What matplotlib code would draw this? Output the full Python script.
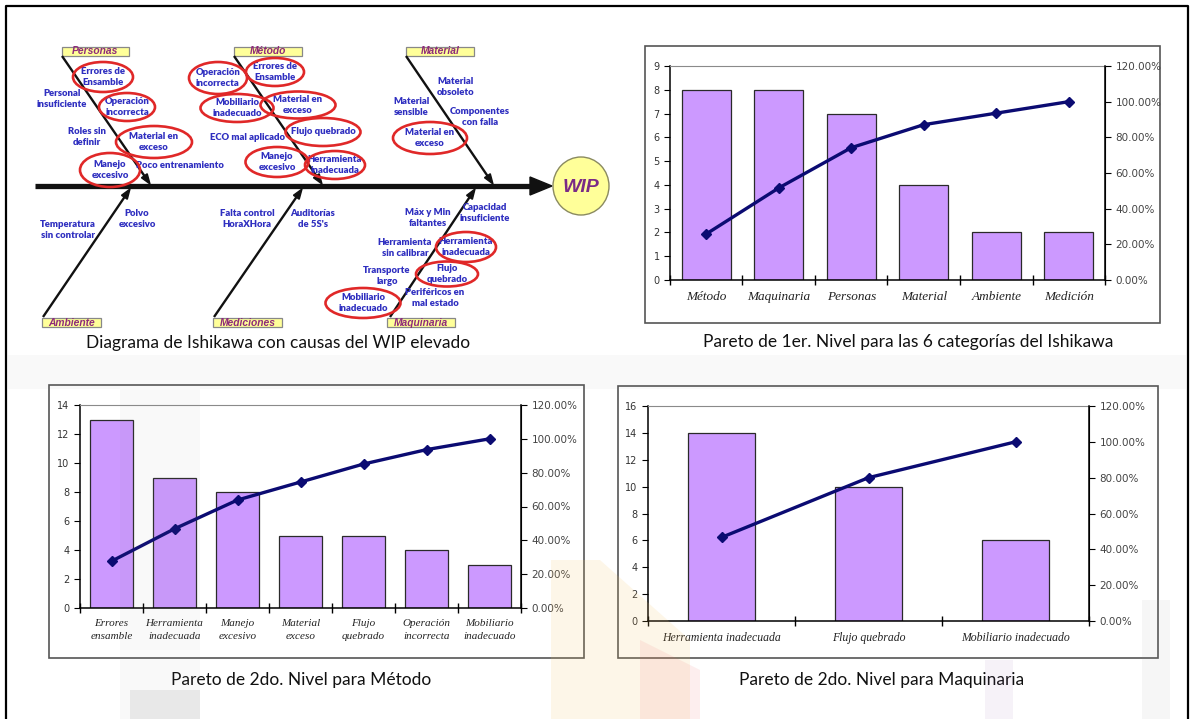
import numpy as np
import matplotlib
matplotlib.use("Agg")
from matplotlib import pyplot as plt
from matplotlib.patches import Ellipse, Rectangle, Polygon

W, H = 1194, 719

# Pareto 1er nivel: categorias del Ishikawa
cat_1 = ["Método", "Maquinaria", "Personas", "Material", "Ambiente", "Medición"]
val_1 = [8, 8, 7, 4, 2, 2]

# Pareto 2do nivel: Método
cat_metodo = ["Errores\nensamble", "Herramienta\ninadecuada", "Manejo\nexcesivo", "Material\nexceso",
              "Flujo\nquebrado", "Operación\nincorrecta", "Mobiliario\ninadecuado"]
val_metodo = [13, 9, 8, 5, 5, 4, 3]

# Pareto 2do nivel: Maquinaria
cat_maq = ["Herramienta inadecuada", "Flujo quebrado", "Mobiliario inadecuado"]
val_maq = [14, 10, 6]

BAR = "#CC99FF"
LINE = "#0B0B72"
CAUSE = "#2F2FC0"
RED = "#E02828"
CATC = "#8E2A7A"


def fig_box(x0, y0, x1, y1):
    return [x0 / W, 1 - y1 / H, (x1 - x0) / W, (y1 - y0) / H]


def arrow(ax, x0, y0, x1, y1, lw, hl, hw, color="#111111"):
    d = np.array([x1 - x0, y1 - y0], float)
    u = d / np.hypot(*d)
    n = np.array([-u[1], u[0]])
    base = np.array([x1, y1]) - u * hl
    ax.plot([x0, base[0]], [y0, base[1]], color=color, lw=lw, solid_capstyle="butt", zorder=3)
    tri = [(x1, y1), base + n * hw / 2, base - n * hw / 2]
    ax.add_patch(Polygon(tri, closed=True, color=color, zorder=3))


def pareto(rect, cats, vals, ymax, lab_size, width, lab_family="Liberation Serif"):
    ax = fig.add_axes(fig_box(*rect))
    ax.set_facecolor("none")
    x = np.arange(len(cats))
    ax.bar(x, vals, width, color=BAR, edgecolor="#2a2a2a", linewidth=0.9, zorder=2)
    ax.set_xlim(-0.5, len(cats) - 0.5)
    ax.set_ylim(0, ymax)
    ax.set_yticks(np.arange(0, ymax + 1, 2 if ymax > 9 else 1))
    ax.set_xticks(np.arange(len(cats) + 1) - 0.5)
    ax.set_xticklabels([])
    ax.set_xticks(x, minor=True)
    ax.set_xticklabels(cats, minor=True, fontsize=lab_size, family=lab_family,
                       style="italic", color="#222222", linespacing=1.5)
    ax.tick_params(axis="x", which="major", direction="inout", length=7, width=1)
    ax.tick_params(axis="x", which="minor", length=0, pad=8)
    ax.tick_params(axis="y", direction="out", length=4, labelsize=7, labelcolor="#333333")
    for s in ("left", "bottom"):
        ax.spines[s].set_linewidth(1.1)
    ax.spines["top"].set_color("#8a8a8a")
    ax.spines["top"].set_linewidth(0.8)

    cum = np.cumsum(vals) / np.sum(vals) * 100
    ax2 = ax.twinx()
    ax2.plot(x, cum, color=LINE, lw=2.4, marker="D", ms=5.5, zorder=4)
    ax2.set_ylim(0, 120)
    ax2.set_yticks(range(0, 121, 20))
    ax2.yaxis.set_major_formatter(lambda v, p: f"{v:.2f}%")
    ax2.tick_params(axis="y", direction="out", length=4, labelsize=7.5, labelcolor="#444444")
    ax2.spines["right"].set_linewidth(1.1)
    ax2.spines["top"].set_visible(False)
    for s in ("left", "bottom"):
        ax2.spines[s].set_visible(False)
    return ax, ax2


fig = plt.figure(figsize=(W / 100, H / 100), dpi=100)
bg = fig.add_axes([0, 0, 1, 1])
bg.set_xlim(0, W)
bg.set_ylim(H, 0)
bg.axis("off")

# marco de la pagina
bg.plot([6, 6, 1188, 1188], [H, 6, 6, H], color="black", lw=1.6)

# recuadros de las graficas
for x0, y0, x1, y1 in [(645, 46, 1160, 323), (49, 385, 584, 658), (618, 386, 1158, 658)]:
    bg.add_patch(Rectangle((x0, y0), x1 - x0, y1 - y0, fc="white", ec="#555555", lw=1.2, zorder=1))

# ---- diagrama de Ishikawa ----
arrow(bg, 35, 186, 552, 186, lw=3.8, hl=22, hw=18)
bg.add_patch(Ellipse((581, 186), 56, 58, fc="#FFFF99", ec="#8a8a60", lw=1.0, zorder=3))
bg.text(581, 187, "WIP", ha="center", va="center", fontsize=14, weight="bold",
        style="italic", color="#7A2A86", family="Liberation Sans", zorder=4)

top_bones = [("Personas", 62, 129, 150), ("Método", 234, 302, 322), ("Material", 406, 474, 493)]
for name, bx0, bx1, tip in top_bones:
    bg.add_patch(Rectangle((bx0, 47), bx1 - bx0, 9, fc="#FFFF99", ec="#888888", lw=0.9, zorder=3))
    bg.text((bx0 + bx1) / 2, 51.5, name, ha="center", va="center", fontsize=7.4, weight="bold",
            style="italic", color=CATC, family="Liberation Sans", zorder=4)
    arrow(bg, bx0, 56, tip, 184, lw=1.7, hl=10, hw=7)

bottom_bones = [("Ambiente", 42, 101, 43, 130), ("Mediciones", 213, 282, 214, 302),
                ("Maquinaria", 387, 455, 390, 475)]
for name, bx0, bx1, start, tip in bottom_bones:
    bg.add_patch(Rectangle((bx0, 318), bx1 - bx0, 9, fc="#FFFF99", ec="#888888", lw=0.9, zorder=3))
    bg.text((bx0 + bx1) / 2, 322.5, name, ha="center", va="center", fontsize=7.4, weight="bold",
            style="italic", color=CATC, family="Liberation Sans", zorder=4)
    arrow(bg, start, 317, tip, 189, lw=1.7, hl=10, hw=7)

circled = [
    ("Errores de\nEnsamble", 103, 77, 60, 30),
    ("Operación\nincorrecta", 127, 107, 56, 28),
    ("Material en\nexceso", 154, 142, 76, 32),
    ("Manejo\nexcesivo", 110, 170, 60, 34),
    ("Operación\nincorrecta", 218, 78, 58, 32),
    ("Errores de\nEnsamble", 275, 72, 58, 28),
    ("Mobiliario\ninadecuado", 237, 108, 73, 28),
    ("Material en\nexceso", 298, 105, 75, 27),
    ("Flujo quebrado", 323, 132, 75, 28),
    ("Manejo\nexcesivo", 277, 162, 63, 30),
    ("Herramienta\ninadecuada", 335, 165, 60, 28),
    ("Material en\nexceso", 430, 138, 74, 32),
    ("Herramienta\ninadecuada", 466, 247, 60, 30),
    ("Flujo\nquebrado", 447, 274, 62, 25),
    ("Mobiliario\ninadecuado", 363, 303, 75, 30),
]
for txt, cx, cy, w, h in circled:
    bg.add_patch(Ellipse((cx, cy), w, h, fill=False, ec=RED, lw=1.9, zorder=5))
    bg.text(cx, cy, txt, ha="center", va="center", fontsize=6.8, weight="heavy",
            color=CAUSE, family="Lato", linespacing=1.2, zorder=4)

plain = [
    ("Personal\ninsuficiente", 62, 99),
    ("Roles sin\ndefinir", 87, 137),
    ("Poco entrenamiento", 180, 165),
    ("ECO mal aplicado", 247, 137),
    ("Material\nobsoleto", 456, 87),
    ("Material\nsensible", 411, 107),
    ("Componentes\ncon falla", 480, 117),
    ("Temperatura\nsin controlar", 68, 230),
    ("Polvo\nexcesivo", 137, 219),
    ("Falta control\nHoraXHora", 247, 219),
    ("Auditorías\nde 5S's", 313, 219),
    ("Máx y Min\nfaltantes", 428, 218),
    ("Capacidad\ninsuficiente", 485, 213),
    ("Herramienta\nsin calibrar", 405, 248),
    ("Transporte\nlargo", 387, 276),
    ("Periféricos en\nmal estado", 435, 298),
]
for txt, cx, cy in plain:
    bg.text(cx, cy, txt, ha="center", va="center", fontsize=6.8, weight="heavy",
            color=CAUSE, family="Lato", linespacing=1.2, zorder=4)

# ---- paretos ----
pareto((670, 66, 1105, 280), cat_1, val_1, 9, 9.5, 0.68)
pareto((80, 405, 521, 608), cat_metodo, val_metodo, 14, 8, 0.68)
pareto((648, 406, 1089, 621), cat_maq, val_maq, 16, 8.5, 0.46)

# pies de figura
captions = [
    ("Diagrama de Ishikawa con causas del WIP elevado", 278, 343),
    ("Pareto de 1er. Nivel para las 6 categorías del Ishikawa", 908, 342),
    ("Pareto de 2do. Nivel para Método", 301, 680),
    ("Pareto de 2do. Nivel para Maquinaria", 882, 680),
]
for txt, cx, cy in captions:
    bg.text(cx, cy, txt, ha="center", va="center", fontsize=12.5, family="Lato", color="#111111")

# marca de agua de la pagina (tenue, encima de todo)
wm = fig.add_axes([0, 0, 1, 1], zorder=10)
wm.set_xlim(0, W)
wm.set_ylim(H, 0)
wm.axis("off")
wm.add_patch(Rectangle((8, 355), 1178, 34, fc="#909090", alpha=0.05, lw=0))
wm.add_patch(Rectangle((120, 389), 80, 330, fc="#909090", alpha=0.05, lw=0))
wm.add_patch(Rectangle((130, 690), 70, 29, fc="#a0a0a0", alpha=0.18, lw=0))
wm.add_patch(Polygon([(551, 560), (600, 560), (690, 640), (690, 719), (551, 719)],
                     fc="#F7C060", alpha=0.14, lw=0))
wm.add_patch(Polygon([(640, 640), (700, 670), (700, 719), (640, 719)], fc="#F06060", alpha=0.10, lw=0))
wm.add_patch(Rectangle((985, 660), 28, 59, fc="#9060B0", alpha=0.08, lw=0))
wm.add_patch(Rectangle((1142, 600), 28, 119, fc="#909090", alpha=0.08, lw=0))

fig.savefig("out.png", dpi=100)
